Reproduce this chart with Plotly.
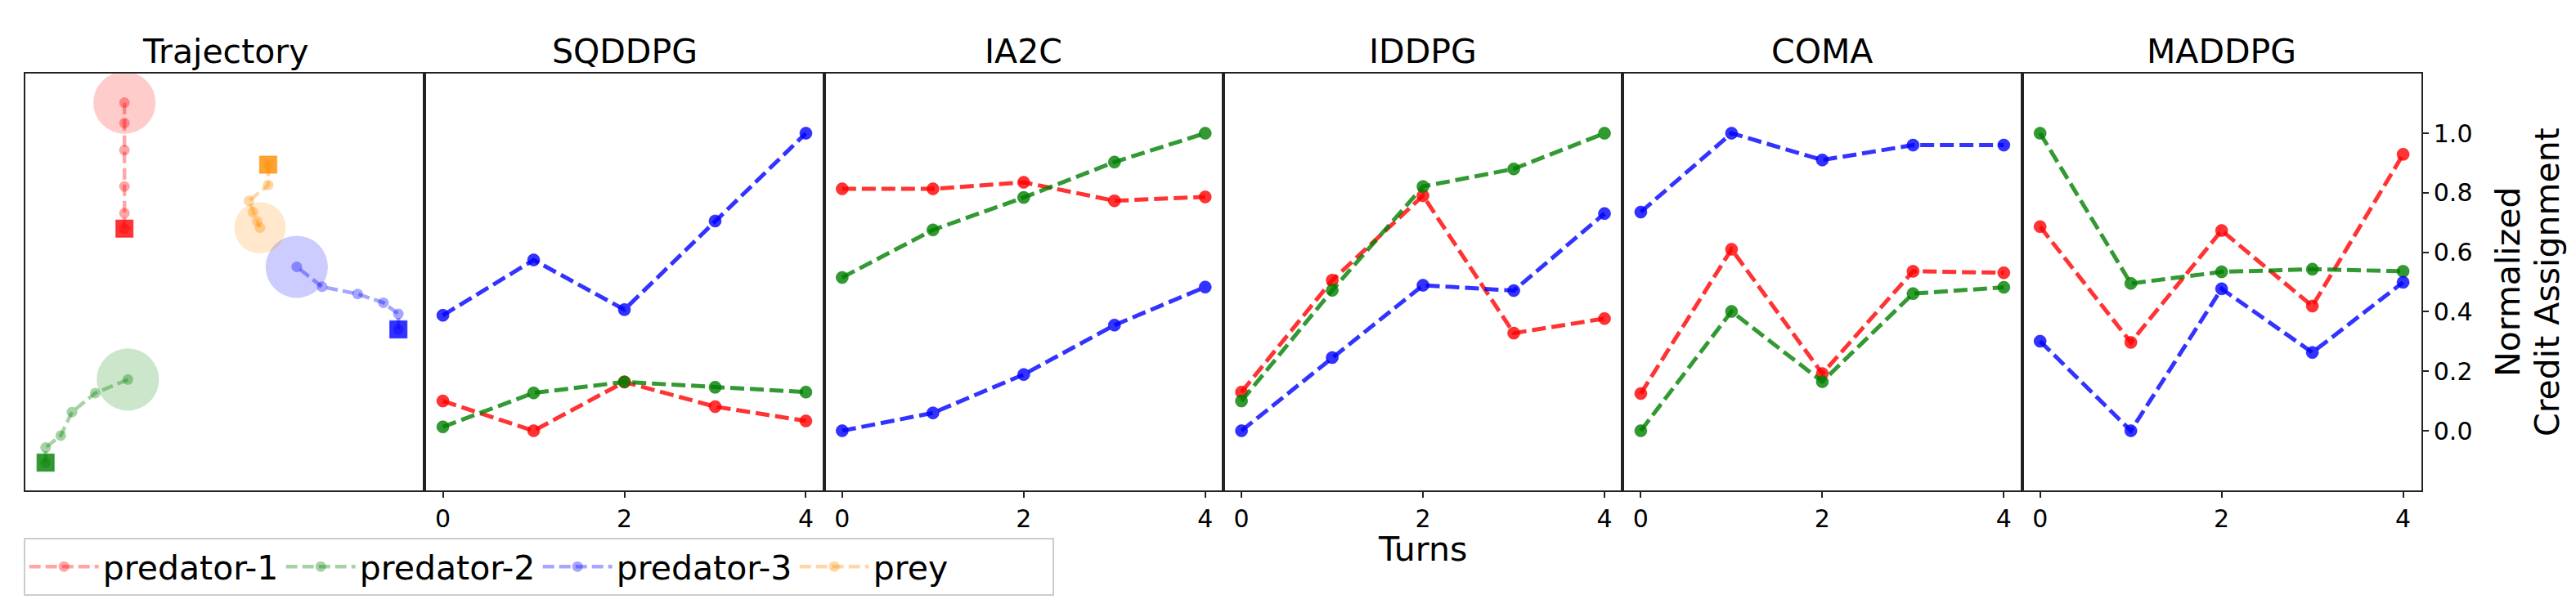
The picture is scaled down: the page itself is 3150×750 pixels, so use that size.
import plotly.graph_objects as go

W, H = 3150, 750
FONT = "DejaVu Sans"

# ---------------- data ----------------
turns = [0, 1, 2, 3, 4]
x_tick_vals = [0, 2, 4]
y_tick_vals = [0.0, 0.2, 0.4, 0.6, 0.8, 1.0]
y_tick_text = ["0.0", "0.2", "0.4", "0.6", "0.8", "1.0"]
methods = ["SQDDPG", "IA2C", "IDDPG", "COMA", "MADDPG"]
agent_names = ["predator-1", "predator-2", "predator-3", "prey"]

sqddpg_p1 = [0.10, 0.00, 0.164, 0.081, 0.033]
sqddpg_p2 = [0.013, 0.127, 0.164, 0.146, 0.130]
sqddpg_p3 = [0.388, 0.574, 0.407, 0.705, 1.00]

ia2c_p1 = [0.813, 0.813, 0.835, 0.773, 0.786]
ia2c_p2 = [0.515, 0.675, 0.784, 0.903, 1.00]
ia2c_p3 = [0.00, 0.060, 0.189, 0.355, 0.483]

iddpg_p1 = [0.130, 0.506, 0.790, 0.328, 0.377]
iddpg_p2 = [0.100, 0.472, 0.821, 0.880, 1.00]
iddpg_p3 = [0.00, 0.246, 0.489, 0.471, 0.730]

coma_p1 = [0.125, 0.610, 0.192, 0.536, 0.531]
coma_p2 = [0.00, 0.401, 0.165, 0.461, 0.482]
coma_p3 = [0.735, 1.00, 0.910, 0.960, 0.960]

maddpg_p1 = [0.686, 0.297, 0.673, 0.419, 0.929]
maddpg_p2 = [1.00, 0.495, 0.534, 0.543, 0.536]
maddpg_p3 = [0.301, 0.00, 0.477, 0.263, 0.499]

# trajectories (start = square, end = big circle)
traj_p1_x = [-0.504, -0.504, -0.504, -0.504, -0.504, -0.504]
traj_p1_y = [0.267, 0.345, 0.479, 0.661, 0.797, 0.899]
traj_p2_x = [-0.899, -0.899, -0.823, -0.767, -0.650, -0.487]
traj_p2_y = [-0.906, -0.830, -0.770, -0.652, -0.557, -0.489]
traj_p3_x = [0.868, 0.868, 0.793, 0.664, 0.486, 0.359]
traj_p3_y = [-0.238, -0.160, -0.104, -0.060, -0.024, 0.076]
traj_prey_x = [0.216, 0.216, 0.120, 0.140, 0.161, 0.175]
traj_prey_y = [0.588, 0.486, 0.407, 0.350, 0.304, 0.272]
predator_radius = 0.156
prey_radius = 0.129

# ---------------- styling ----------------
colors = {"p1": (255, 0, 0), "p2": (0, 128, 0), "p3": (0, 0, 255), "prey": (255, 140, 0)}


def rgba(c, a):
    return "rgba(%d,%d,%d,%.3f)" % (c[0], c[1], c[2], a)


def px2x(px):
    return px / W


def px2y(py):
    return 1 - py / H


left0 = 31.1
pw = 488.28
top_px, bot_px = 90.2, 599.8

fig = go.Figure()
layout = dict(
    width=W, height=H, margin=dict(l=0, r=0, t=0, b=0),
    paper_bgcolor="white", plot_bgcolor="white",
    font=dict(family=FONT, color="black"),
    showlegend=True,
)

annotations = []
shapes = []

for i in range(6):
    n = i + 1
    xa = "xaxis" if n == 1 else "xaxis%d" % n
    ya = "yaxis" if n == 1 else "yaxis%d" % n
    dom = [px2x(left0 + i * pw), px2x(left0 + (i + 1) * pw)]
    ydom = [px2y(bot_px), px2y(top_px)]
    if i == 0:
        layout[xa] = dict(domain=dom, range=[-1, 1], showticklabels=False, ticks="",
                          showgrid=False, zeroline=False, showline=True, mirror=True,
                          linecolor="#222222", linewidth=2, anchor="y")
        layout[ya] = dict(domain=ydom, range=[-1.044, 1.044], showticklabels=False, ticks="",
                          showgrid=False, zeroline=False, showline=True, mirror=True,
                          linecolor="#222222", linewidth=2, anchor="x")
    else:
        layout[xa] = dict(domain=dom, range=[-0.2, 4.2], tickvals=x_tick_vals,
                          ticks="outside", ticklen=7, tickwidth=1.6, tickcolor="#222222",
                          tickfont=dict(size=30, family=FONT, color="black"),
                          showgrid=False, zeroline=False, showline=True, mirror=True,
                          linecolor="#222222", linewidth=2, anchor="y%d" % n)
        yd = dict(domain=ydom, range=[-0.2, 1.2], showgrid=False, zeroline=False,
                  showline=True, mirror=True, linecolor="#222222", linewidth=2,
                  anchor="x%d" % n)
        if i == 5:
            yd.update(side="right", tickvals=y_tick_vals, ticktext=y_tick_text,
                      ticks="outside", ticklen=7, tickwidth=1.6, tickcolor="#222222",
                      tickfont=dict(size=30, family=FONT, color="black"))
        else:
            yd.update(showticklabels=False, ticks="")
        layout[ya] = yd

# ---------------- trajectory panel ----------------
traj = [
    ("p1", agent_names[0], traj_p1_x, traj_p1_y, predator_radius),
    ("p2", agent_names[1], traj_p2_x, traj_p2_y, predator_radius),
    ("p3", agent_names[2], traj_p3_x, traj_p3_y, predator_radius),
    ("prey", agent_names[3], traj_prey_x, traj_prey_y, prey_radius),
]
for key, name, tx, ty, r in traj:
    c = colors[key]
    cx, cy = tx[-1], ty[-1]
    shapes.append(dict(type="circle", xref="x", yref="y", x0=cx - r, x1=cx + r,
                       y0=cy - r, y1=cy + r, fillcolor=rgba(c, 0.2),
                       line=dict(width=0), layer="below"))
    fig.add_trace(go.Scatter(x=tx, y=ty, mode="lines+markers", name=name,
                             line=dict(color=rgba(c, 0.35), width=4.5, dash="14px,6px"),
                             marker=dict(color=rgba(c, 0.35), size=13, line=dict(width=0)),
                             xaxis="x", yaxis="y", showlegend=True))
for key, name, tx, ty, r in traj:
    c = colors[key]
    fig.add_trace(go.Scatter(x=[tx[0]], y=[ty[0]], mode="markers",
                             marker=dict(symbol="square", size=21, color=rgba(c, 0.8),
                                         line=dict(color=rgba(c, 0.45), width=1.5)),
                             xaxis="x", yaxis="y", showlegend=False, hoverinfo="skip"))

# ---------------- credit panels ----------------
series = [
    (sqddpg_p1, sqddpg_p2, sqddpg_p3),
    (ia2c_p1, ia2c_p2, ia2c_p3),
    (iddpg_p1, iddpg_p2, iddpg_p3),
    (coma_p1, coma_p2, coma_p3),
    (maddpg_p1, maddpg_p2, maddpg_p3),
]
for j, (s1, s2, s3) in enumerate(series):
    n = j + 2
    for key, vals, name in (("p1", s1, agent_names[0]), ("p2", s2, agent_names[1]),
                            ("p3", s3, agent_names[2])):
        c = colors[key]
        fig.add_trace(go.Scatter(x=turns, y=vals, mode="lines+markers", name=name,
                                 line=dict(color=rgba(c, 0.8), width=5, dash="17px,7px"),
                                 marker=dict(color=rgba(c, 0.8), size=15,
                                             line=dict(color=rgba(c, 0.5), width=1)),
                                 xaxis="x%d" % n, yaxis="y%d" % n, showlegend=False))

# ---------------- titles ----------------
titles = ["Trajectory"] + methods
for i, t in enumerate(titles):
    annotations.append(dict(text=t, x=px2x(left0 + (i + 0.5) * pw), y=px2y(89),
                            xref="paper", yref="paper", xanchor="center", yanchor="bottom",
                            showarrow=False, font=dict(size=41, family=FONT, color="black")))

annotations.append(dict(text="Turns", x=px2x(1739), y=px2y(698), xref="paper", yref="paper",
                        xanchor="center", yanchor="bottom", showarrow=False,
                        font=dict(size=41, family=FONT, color="black")))
annotations.append(dict(text="Normalized", x=px2x(3067), y=px2y(345), xref="paper",
                        yref="paper", xanchor="center", yanchor="middle", textangle=-90,
                        showarrow=False, font=dict(size=41, family=FONT, color="black")))
annotations.append(dict(text="Credit Assignment", x=px2x(3115), y=px2y(345), xref="paper",
                        yref="paper", xanchor="center", yanchor="middle", textangle=-90,
                        showarrow=False, font=dict(size=41, family=FONT, color="black")))

layout["annotations"] = annotations
layout["shapes"] = shapes
layout["legend"] = dict(orientation="h", x=px2x(28.7), y=px2y(658), xanchor="left",
                        yanchor="top", font=dict(size=41, family=FONT, color="black"),
                        bgcolor="white", bordercolor="#cccccc", borderwidth=2,
                        itemwidth=85, entrywidth=214, tracegroupgap=0)

fig.update_layout(**layout)
fig.write_html("out.html")
